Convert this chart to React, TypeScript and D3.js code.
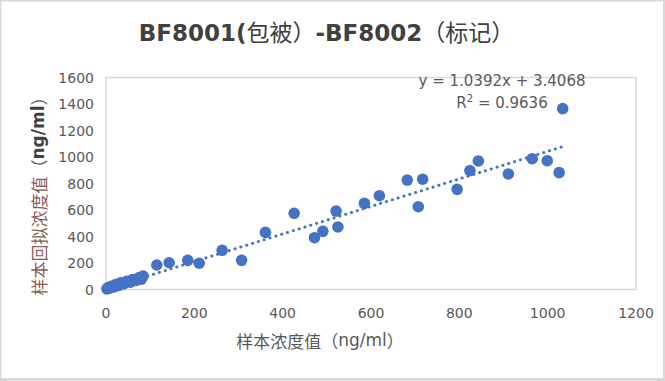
import React from "react";
import * as d3 from "d3";

const xValues = [2, 5, 8, 12, 18, 22, 28, 33, 40, 47, 55, 60, 68, 75, 80, 84,
  115, 143, 185, 211, 263, 307, 361, 426, 472, 491, 521, 525, 585, 619,
  682, 717, 707, 795, 824, 843, 911, 965, 999, 1026, 1034];
const yValues = [5, 15, 10, 25, 20, 38, 30, 50, 42, 62, 55, 75, 68, 90, 78, 102,
  185, 202, 220, 198, 296, 220, 431, 575, 391, 439, 592, 472, 650, 708,
  826, 832, 625, 756, 897, 970, 872, 987, 972, 882, 1365];
const xTicks = [0, 200, 400, 600, 800, 1000, 1200];
const yTicks = [0, 200, 400, 600, 800, 1000, 1200, 1400, 1600];
const slope = 1.0392;
const intercept = 3.4068;
const rSquared = 0.9636;

const W = 665;
const H = 381;
const plot = { left: 106, right: 636, top: 77.5, bottom: 289.5 };
const blue = "#4472c4";
const gray = "#595959";
const latin = "'DejaVu Sans', 'Noto Sans CJK SC', sans-serif";
const cjk = "'Noto Sans CJK SC', sans-serif";

export default function App() {
  const x = d3.scaleLinear().domain([0, 1200]).range([plot.left, plot.right]);
  const y = d3.scaleLinear().domain([0, 1600]).range([plot.bottom, plot.top]);
  const xMin = d3.min(xValues) as number;
  const xMax = d3.max(xValues) as number;
  const trend = d3.line<number>().x((d) => x(d)).y((d) => y(slope * d + intercept));

  return (
    <svg width={W} height={H} style={{ position: "absolute", left: 0, top: 0 }}>
      <rect x={0} y={0} width={W} height={H} fill="#d9d9d9" />
      <rect x={1.5} y={1.5} width={661.5} height={376.5} fill="#ffffff" />

      <text x={326.5} y={41} textAnchor="middle" fill="#404040" fontSize={23}>
        <tspan fontFamily={latin} fontWeight="bold">BF8001(</tspan>
        <tspan fontFamily={cjk}>包被）</tspan>
        <tspan fontFamily={latin} fontWeight="bold">-BF8002</tspan>
        <tspan fontFamily={cjk}>（标记）</tspan>
      </text>

      <rect x={plot.left} y={plot.top} width={plot.right - plot.left}
        height={plot.bottom - plot.top} fill="none" stroke="#d9d9d9" strokeWidth={1.5} />

      {yTicks.map((t) => (
        <text key={"y" + t} x={94} y={y(t)} textAnchor="end" dominantBaseline="central"
          fontFamily={latin} fontSize={14} fill={gray}>{t}</text>
      ))}
      {xTicks.map((t) => (
        <text key={"x" + t} x={x(t)} y={313} textAnchor="middle" dominantBaseline="central"
          fontFamily={latin} fontSize={14} fill={gray}>{t}</text>
      ))}

      <text x={320} y={340} textAnchor="middle" dominantBaseline="central" fontSize={17} fill={gray}>
        <tspan fontFamily={cjk}>样本浓度值（</tspan>
        <tspan fontFamily={latin}>ng/ml</tspan>
        <tspan fontFamily={cjk}>）</tspan>
      </text>

      <text transform="translate(38,192) rotate(-90)" textAnchor="middle" dominantBaseline="central" fontSize={17}>
        <tspan fontFamily={cjk} fill="#8a5c55">样本回拟浓度值</tspan>
        <tspan fontFamily={cjk} fill={gray}>（</tspan>
        <tspan fontFamily={latin} fontWeight="bold" fill="#404040">ng/ml</tspan>
        <tspan fontFamily={cjk} fill={gray}>）</tspan>
      </text>

      <path d={trend([xMin, xMax]) as string} fill="none" stroke={blue} strokeWidth={3}
        strokeLinecap="round" strokeDasharray="0.1 6" />

      {xValues.map((v, i) => (
        <circle key={i} cx={x(v)} cy={y(yValues[i])} r={5.8} fill={blue} />
      ))}

      <text x={502} y={86} textAnchor="middle" fontFamily={latin} fontSize={15} fill={gray}>
        {`y = ${slope}x + ${intercept}`}
      </text>
      <text x={502} y={108} textAnchor="middle" fontFamily={latin} fontSize={15} fill={gray}>
        R<tspan dy={-6} fontSize={10}>2</tspan><tspan dy={6}>{` = ${rSquared}`}</tspan>
      </text>
    </svg>
  );
}
